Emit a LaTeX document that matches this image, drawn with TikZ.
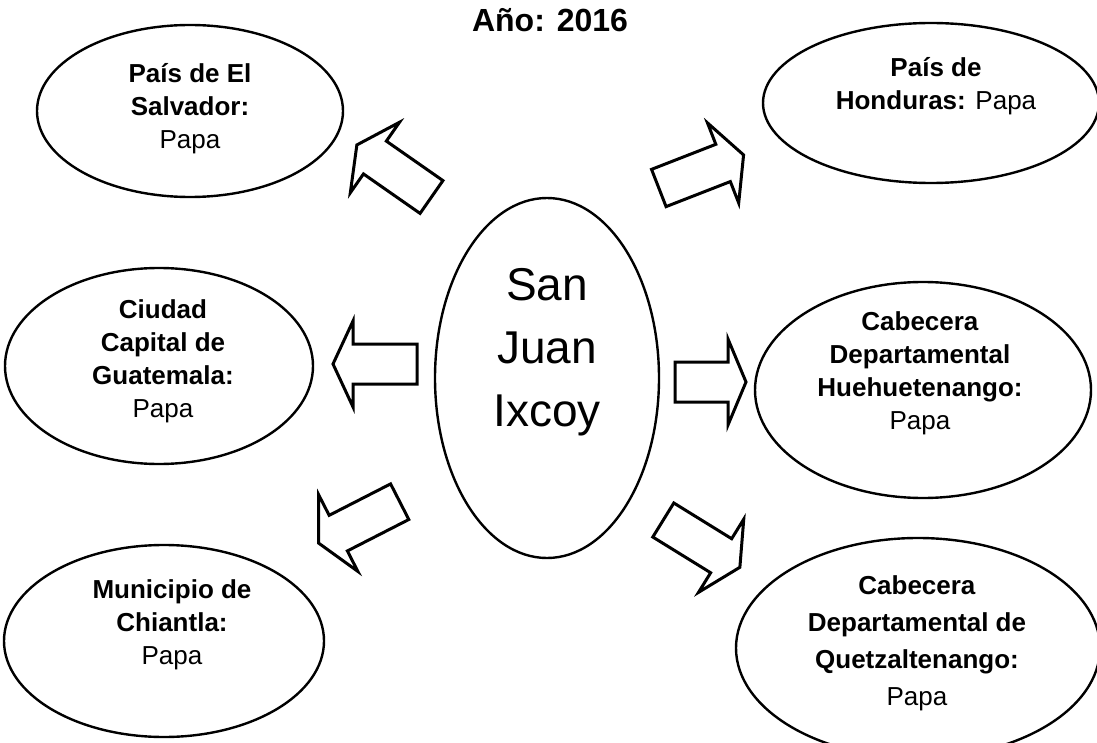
\documentclass[tikz,border=0pt]{standalone}
\usepackage{fontspec}
\setmainfont{Liberation Sans}
\usetikzlibrary{shapes.geometric}

\tikzset{
  bubble/.style={draw, ellipse, line width=1.2pt, inner sep=0pt},
  lbl/.style={align=center, font=\fontsize{13}{16.5}\selectfont},
  bigarrow/.style={draw, line width=1.5pt, line join=miter, fill=white},
}

% block arrow: tail x, tail y, angle, length, head length
\newcommand{\blockarrow}[5]{%
  \begin{scope}[shift={(#1,#2)}, rotate=#3]
    \draw[bigarrow] (0,-20) -- (#4-#5,-20) -- (#4-#5,-43) -- (#4,0)
      -- (#4-#5,43) -- (#4-#5,20) -- (0,20) -- cycle;
  \end{scope}}

\begin{document}
\begin{tikzpicture}[x=0.5pt, y=-0.5pt]
        \useasboundingbox (0,0) rectangle (1097,743);

        % Title
        \node[font=\bfseries\fontsize{16}{19}\selectfont] (title) at (550,20) {Año: 2016};

        % Centre
        \node[bubble, minimum width=112pt, minimum height=180pt] (ixcoy) at (547,378) {};
        \node[align=center, font=\fontsize{23}{31.5}\selectfont] (ixcoyT) at (547,352) {San\\Juan\\Ixcoy};

        % Left column
        \node[bubble, minimum width=153pt, minimum height=86pt] (salv) at (190,111) {};
        \node[lbl] (salvT) at (190,109) {\textbf{País de El}\\\textbf{Salvador:}\\Papa};

        \node[bubble, minimum width=154pt, minimum height=98pt] (ciud) at (159,366) {};
        \node[lbl] (ciudT) at (163,361) {\textbf{Ciudad}\\\textbf{Capital de}\\\textbf{Guatemala:}\\Papa};

        \node[bubble, minimum width=160pt, minimum height=96pt] (chia) at (164,641) {};
        \node[lbl] (chiaT) at (172,625) {\textbf{Municipio de}\\\textbf{Chiantla:}\\Papa};

        % Right column
        \node[bubble, minimum width=168pt, minimum height=80pt] (hond) at (931,103) {};
        \node[lbl] (hondT) at (936,86) {\textbf{País de}\\\textbf{Honduras:} Papa};

        \node[bubble, minimum width=168pt, minimum height=108pt] (hueh) at (923,390) {};
        \node[lbl] (huehT) at (920,373) {\textbf{Cabecera}\\\textbf{Departamental}\\\textbf{Huehuetenango:}\\Papa};

        \node[bubble, minimum width=182pt, minimum height=110pt] (quet) at (918,648) {};
        \node[lbl, font=\fontsize{13}{18.5}\selectfont] (quetT) at (917,643) {\textbf{Cabecera}\\\textbf{Departamental de}\\\textbf{Quetzaltenango:}\\Papa};

        % Arrows
        \blockarrow{431.5}{197}{145.1}{91}{22}
        \blockarrow{658.8}{188}{21.3}{91}{22}
        \blockarrow{417}{364}{180}{84}{20}
        \blockarrow{675}{382}{0}{71}{18}
        \blockarrow{399.7}{501.7}{207.1}{91}{22}
        \blockarrow{663.3}{520}{-31.7}{90}{22}

\end{tikzpicture}
\end{document}
